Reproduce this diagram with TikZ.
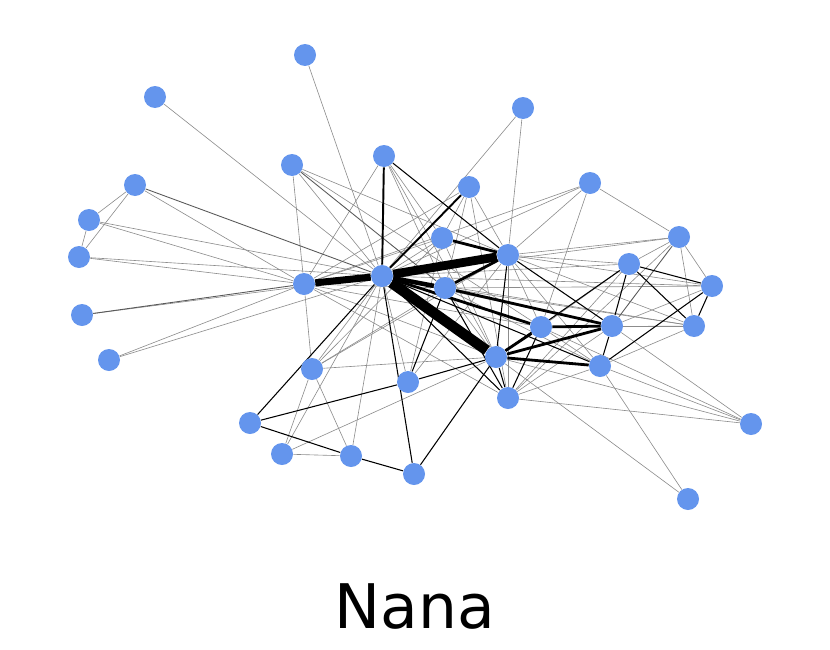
\documentclass[tikz,border=0pt]{standalone}
\usepackage{fontspec}
\setmainfont{DejaVu Sans}
\usetikzlibrary{backgrounds}
\definecolor{Cornflower}{HTML}{6495ED}
\definecolor{Faint}{HTML}{8C8C8C}

\begin{document}
\begin{tikzpicture}[x=.02cm,y=-.02cm,
    dot/.style={circle,fill=Cornflower,inner sep=0pt,minimum size=.44cm},
    faint/.style={draw=Faint,line width=.35pt},
    dim/.style={draw=black!65,line width=.5pt},
    firm/.style={draw=black,line width=.6pt},
    bold/.style={draw=black,line width=1.6pt}]
        \useasboundingbox(0,0)rectangle(830,649);
        % characters
        \foreach \i/\x/\y in {1/305/55,2/155/97,3/523/108,4/292/165,5/384/156,6/135/185,
            7/469/187,8/590/183,9/89/220,10/79/257,11/442/238,12/508/255,13/679/237,
            14/629/264,15/304/284,16/382/276,17/445/288,18/712/286,19/82/315,20/541/327,
            21/612/326,22/694/326,23/109/360,24/312/369,25/496/357,26/600/366,27/408/382,
            28/508/398,29/250/423,30/751/424,31/282/454,32/351/456,33/414/474,34/688/499}
            \node[dot](v\i)at(\x,\y){};
        \begin{scope}[on background layer]
        % weak ties
        \foreach \a/\b in {1/16,2/16,3/16,3/12,4/15,4/16,4/12,4/20,6/9,6/10,9/10,6/15,
            9/15,9/16,10/15,10/16,19/16,23/15,23/16,30/21,30/26,30/25,30/28,30/20,
            34/26,34/25,31/32,31/24,31/16,31/25,32/24,32/16,24/15,24/16,24/17,24/25,
            24/12,27/16,27/12,5/15,5/17,5/11,5/25,7/12,7/11,7/17,7/15,7/28,8/13,8/12,
            8/15,8/16,8/20,13/12,13/16,13/14,13/22,13/28,14/12,14/16,14/28,14/20,18/13,
            18/12,18/17,18/21,18/16,22/21,22/12,22/16,22/26,22/20,12/20,12/26,12/28,
            11/16,11/15,11/24,11/25,11/27,15/17,15/25,15/20,15/28,17/26,17/22,17/25,
            20/26,28/26,28/21,21/16}
            \draw[faint](v\a)--(v\b);
        \foreach \a/\b in {6/16,19/15,4/17,13/21}
            \draw[dim](v\a)--(v\b);
        % stronger ties
        \foreach \a/\b in {5/12,16/28,16/26,12/25,12/21,14/21,14/22,14/18,18/22,14/25,
            18/26,26/21,28/25,28/20,29/27,29/32,32/33,33/16,33/25,27/25,29/16,17/28,
            27/17}
            \draw[firm](v\a)--(v\b);
        \draw[firm,line width=1.1pt](v5)--(v16);
        \draw[firm,line width=1.1pt](v7)--(v16);
        \foreach \a/\b in {11/12,17/12,20/21,16/20,17/21,25/20,25/21,25/26}
            \draw[bold](v\a)--(v\b);
        \draw[bold,line width=2.6pt](v16)--(v17);
        \draw[bold,line width=4pt](v15)--(v16);
        \draw[bold,line width=5pt](v16)--(v12);
        \draw[bold,line width=6pt](v16)--(v25);
        \end{scope}
        \node[anchor=base,font=\fontsize{35}{40}\selectfont](title)at(415,628){Nana};
      \end{tikzpicture}
\end{document}
